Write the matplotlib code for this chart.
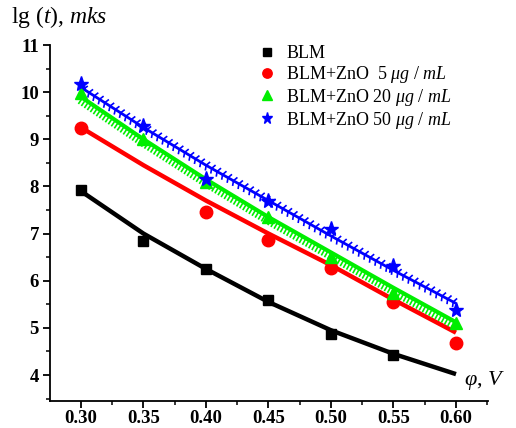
import matplotlib
matplotlib.use("Agg")
import matplotlib.pyplot as plt
import matplotlib.patheffects as pe
from matplotlib.ticker import MultipleLocator

plt.rcParams['font.family'] = ['Liberation Serif', 'DejaVu Serif']
plt.rcParams['mathtext.fontset'] = 'custom'
plt.rcParams['mathtext.rm'] = 'Liberation Serif'
plt.rcParams['mathtext.it'] = 'Liberation Serif:italic'
plt.rcParams['mathtext.bf'] = 'Liberation Serif:bold'

# ---- data ----
phi = [0.30, 0.35, 0.40, 0.45, 0.50, 0.55, 0.60]

blm_x = [0.30, 0.35, 0.40, 0.45, 0.50, 0.55]
blm_y = [7.92, 6.85, 6.24, 5.60, 4.88, 4.43]

zno5_x = [0.30, 0.40, 0.45, 0.50, 0.55, 0.60]
zno5_y = [9.25, 7.45, 6.87, 6.27, 5.55, 4.69]

zno20_x = [0.30, 0.35, 0.40, 0.45, 0.50, 0.55, 0.60]
zno20_y = [9.98, 9.00, 8.10, 7.35, 6.50, 5.75, 5.10]

zno50_x = [0.30, 0.35, 0.40, 0.45, 0.50, 0.55, 0.60]
zno50_y = [10.18, 9.28, 8.16, 7.70, 7.10, 6.32, 5.38]

# fitted curves, read at each phi
fit_blm = [7.90, 7.00, 6.25, 5.55, 4.95, 4.45, 4.02]
fit_zno5 = [9.25, 8.45, 7.70, 7.00, 6.33, 5.60, 4.90]
fit_zno20 = [9.90, 9.00, 8.15, 7.35, 6.60, 5.85, 5.12]
fit_zno50 = [10.10, 9.25, 8.45, 7.70, 6.95, 6.22, 5.52]

labels = ['BLM',
          r'BLM+ZnO  5 $\mu g$ / $mL$',
          r'BLM+ZnO 20 $\mu g$ / $mL$',
          r'BLM+ZnO 50 $\mu g$ / $mL$']
xticks = [0.30, 0.35, 0.40, 0.45, 0.50, 0.55, 0.60]
yticks = [4, 5, 6, 7, 8, 9, 10, 11]

fig = plt.figure(figsize=(5.16, 4.28), dpi=100)
ax = fig.add_axes([50/516, 1-401/428, 438/516, 356/428])

# fit lines
ax.plot(phi, fit_blm, color='black', lw=3.2, zorder=2, solid_capstyle='butt')
ax.plot(phi, fit_zno5, color='red', lw=3.2, zorder=2, solid_capstyle='butt')
ax.plot(phi, fit_zno20, color='#00ee00', lw=3, zorder=2, solid_capstyle='butt')
ax.plot(phi, fit_zno20, color='#00ee00', lw=1.2, zorder=2,
        path_effects=[pe.TickedStroke(spacing=2.6, angle=-90, length=1.8)])
ax.plot(phi, fit_zno50, color='blue', lw=2, zorder=3, solid_capstyle='butt')
ax.plot(phi, fit_zno50, color='blue', lw=1.2, zorder=3,
        path_effects=[pe.TickedStroke(spacing=4.5, angle=70, length=0.7),
                      pe.TickedStroke(spacing=4.5, angle=-70, length=0.7)])

# data points
h1, = ax.plot(blm_x, blm_y, 's', color='black', ms=7, ls='none', zorder=5)
h2, = ax.plot(zno5_x, zno5_y, 'o', color='red', ms=9, ls='none', zorder=5)
h3, = ax.plot(zno20_x, zno20_y, '^', color='#00ee00', ms=9, ls='none', zorder=5)
h4, = ax.plot(zno50_x, zno50_y, '*', color='blue', ms=11, ls='none', zorder=5)

ax.set_xlim(0.2752, 0.6256)
ax.set_ylim(3.45, 11)
ax.set_xticks(xticks)
ax.set_xticklabels([f'{v:.2f}' for v in xticks])
ax.set_yticks(yticks)
ax.xaxis.set_minor_locator(MultipleLocator(0.025))
ax.yaxis.set_minor_locator(MultipleLocator(0.5))
for s in ['top', 'right']:
    ax.spines[s].set_visible(False)
for s in ['left', 'bottom']:
    ax.spines[s].set_linewidth(1.3)
ax.tick_params(which='major', direction='out', length=5, width=1.3,
               labelsize=13.5, pad=3)
ax.tick_params(axis='x', which='major', pad=1.5)
ax.tick_params(which='minor', direction='out', length=3, width=1.1)
for lab in ax.get_xticklabels() + ax.get_yticklabels():
    lab.set_fontweight('bold')

fig.text(11/516, 1-23/428, r'lg ($t$), $mks$', fontsize=17,
         ha='left', va='baseline')
ax.text(0.945, 0.045, r'$\varphi$, $V$', transform=ax.transAxes,
        fontsize=16, ha='left', va='baseline', clip_on=False)

leg = ax.legend([h1, h2, h3, h4], labels, loc='upper left',
                bbox_to_anchor=(0.445, 1.035), frameon=False, fontsize=13,
                handlelength=1.0, handletextpad=0.6, labelspacing=0.1,
                borderpad=0.2, markerscale=0.75)

fig.savefig('out.png', dpi=100, facecolor='white')
